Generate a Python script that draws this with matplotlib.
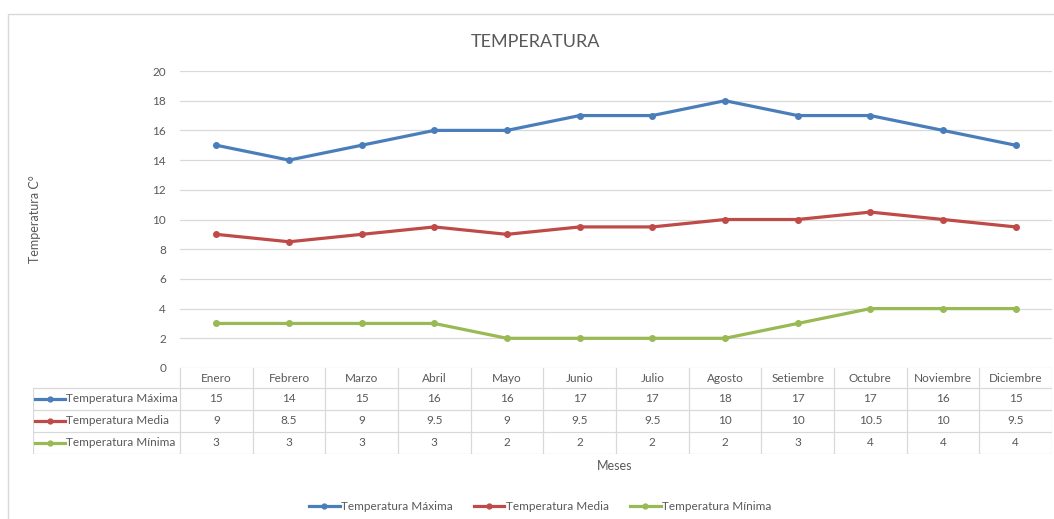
import matplotlib.pyplot as plt
from matplotlib.lines import Line2D
from matplotlib.patches import Rectangle

meses = ['Enero', 'Febrero', 'Marzo', 'Abril', 'Mayo', 'Junio', 'Julio',
         'Agosto', 'Setiembre', 'Octubre', 'Noviembre', 'Diciembre']
t_max = [15, 14, 15, 16, 16, 17, 17, 18, 17, 17, 16, 15]
t_media = [9, 8.5, 9, 9.5, 9, 9.5, 9.5, 10, 10, 10.5, 10, 9.5]
t_min = [3, 3, 3, 3, 2, 2, 2, 2, 3, 4, 4, 4]
series = ['Temperatura Máxima', 'Temperatura Media', 'Temperatura Mínima']
colors = ['#4a7ebb', '#be4b48', '#98b954']

plt.rcParams['font.family'] = ['Lato', 'DejaVu Sans']
W, H = 1054, 519
fig = plt.figure(figsize=(W / 100, H / 100), dpi=100)


def fx(px):
    return px / W


def fy(py):
    return 1 - py / H


grid_c = '#d9d9d9'
text_c = '#595959'

# outer chart border
fig.patches.append(Rectangle((fx(8), fy(530)), fx(1060 - 8), (530 - 14) / H,
                             transform=fig.transFigure, fill=False,
                             edgecolor=grid_c, lw=1))

left, right, top, bottom = 180, 1052, 71, 368
ax = fig.add_axes([fx(left), fy(bottom), fx(right - left), (bottom - top) / H])
x = list(range(len(meses)))
for vals, c, name in zip([t_max, t_media, t_min], colors, series):
    ax.plot(x, vals, color=c, lw=2.3, marker='o', ms=4, label=name,
            solid_capstyle='round')
ax.set_xlim(-0.5, len(meses) - 0.5)
ax.set_ylim(0, 20)
ax.set_yticks(range(0, 21, 2))
ax.set_xticks([])
ax.grid(axis='y', color=grid_c, lw=0.9)
ax.set_axisbelow(True)
for s in ax.spines.values():
    s.set_visible(False)
ax.tick_params(axis='y', length=0, pad=10, labelsize=8.5, labelcolor=text_c)

# data table below the axes
tbl_left, tbl_bottom = 33, 454
col_w = (right - left) / len(meses)
x_left = -0.5 - (left - tbl_left) / col_w
tax = fig.add_axes([fx(tbl_left), fy(tbl_bottom), fx(right - tbl_left),
                    (tbl_bottom - bottom) / H])
tax.set_xlim(x_left, len(meses) - 0.5)
rows = [0, 20, 42, 64, 86]
tax.set_ylim(rows[-1], 0)
tax.axis('off')
for r in rows[1:]:
    tax.plot([x_left, len(meses) - 0.5], [r, r], color=grid_c, lw=0.9)
tax.plot([x_left, x_left], [rows[1], rows[-1]], color=grid_c, lw=0.9)
for i in range(len(meses) + 1):
    tax.plot([i - 0.5, i - 0.5], [0, rows[-1]], color=grid_c, lw=0.9)
for i, m in enumerate(meses):
    tax.text(i, (rows[0] + rows[1]) / 2 + 1, m, ha='center', va='center',
             fontsize=8.5, color=text_c)
key_w = 30 / col_w
for k, (vals, c, name) in enumerate(zip([t_max, t_media, t_min], colors, series)):
    yc = (rows[k + 1] + rows[k + 2]) / 2
    for i, v in enumerate(vals):
        tax.text(i, yc, f'{v:g}', ha='center', va='center', fontsize=8.5,
                 color=text_c)
    k0 = x_left + 2 / col_w
    tax.plot([k0, k0 + key_w], [yc, yc], color=c, lw=2.3)
    tax.plot([k0 + key_w / 2], [yc], color=c, marker='o', ms=3.5)
    tax.text(k0 + key_w + 1 / col_w, yc, name, ha='left', va='center',
             fontsize=8.5, color=text_c)

fig.text(fx(535), fy(42), 'TEMPERATURA', ha='center', va='center',
         fontsize=13, color=text_c)
fig.text(fx(35), fy(219), 'Temperatura C°', rotation=90, ha='center',
         va='center', fontsize=9, color=text_c)
fig.text(fx(615), fy(466), 'Meses', ha='center', va='center', fontsize=9,
         color=text_c)

handles = [Line2D([], [], color=c, lw=2.3, marker='o', ms=3.5) for c in colors]
fig.legend(handles, series, loc='center', bbox_to_anchor=(fx(540), fy(507)),
           ncol=3, frameon=False, fontsize=8.5, labelcolor=text_c,
           handlelength=2.6, handletextpad=0.1, columnspacing=1.8)

fig.savefig('out.png', dpi=100)
